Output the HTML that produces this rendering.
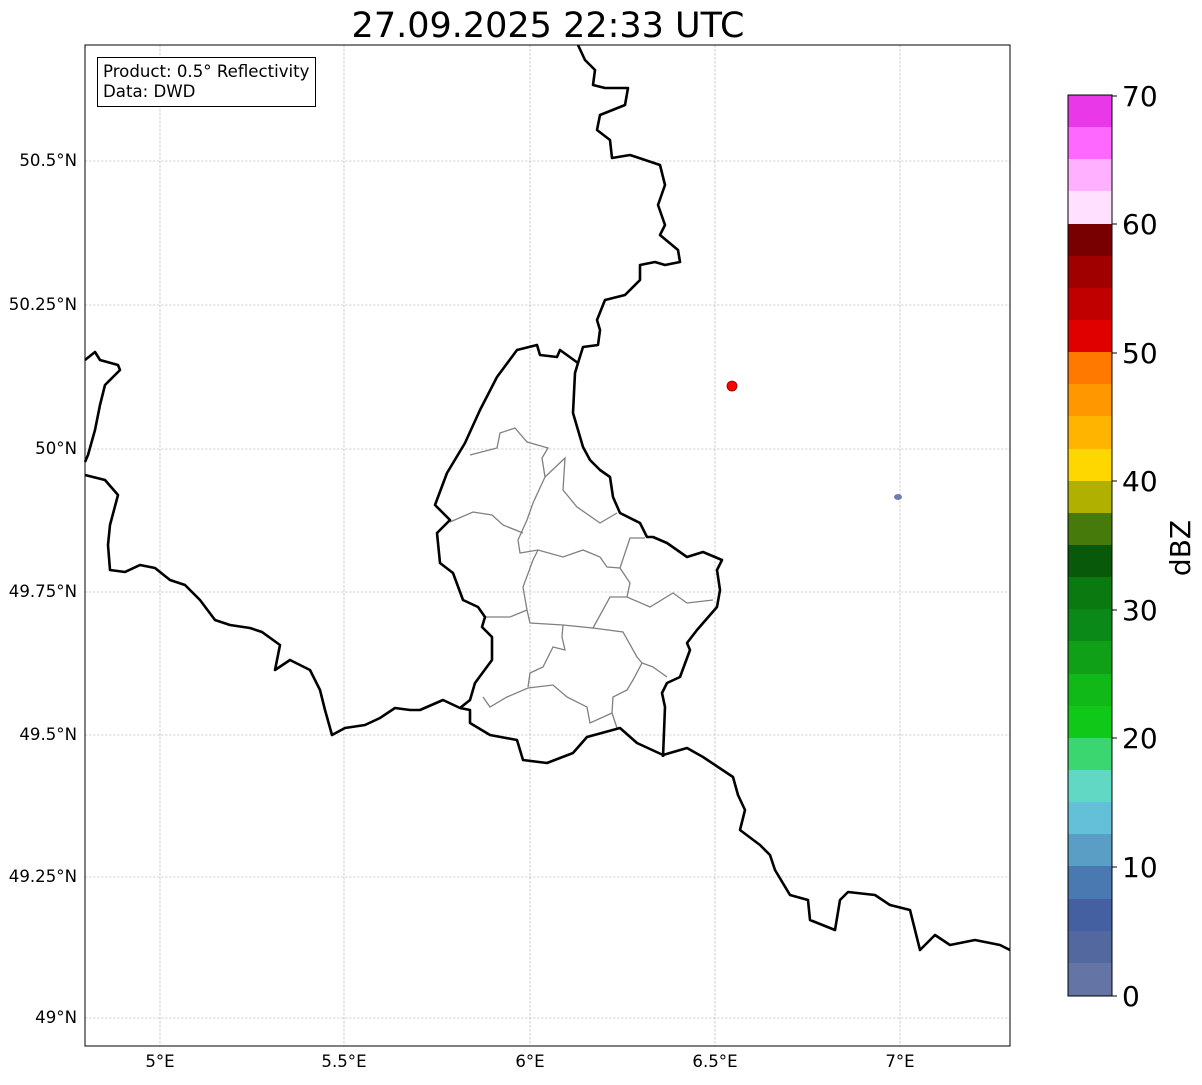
<!DOCTYPE html>
<html><head><meta charset="utf-8"><style>
body{margin:0;background:#fff;width:1202px;height:1081px;overflow:hidden;font-family:"DejaVu Sans",sans-serif}
</style></head><body>
<svg width="1202" height="1081" xmlns="http://www.w3.org/2000/svg" font-family="DejaVu Sans, sans-serif">
<text x="548" y="37" font-size="35" text-anchor="middle">27.09.2025 22:33 UTC</text>
<g stroke="#aaaaaa" stroke-width="0.6" stroke-dasharray="2.5,1.5">
<line x1="160" y1="45" x2="160" y2="1046"/><line x1="344" y1="45" x2="344" y2="1046"/><line x1="530" y1="45" x2="530" y2="1046"/><line x1="715" y1="45" x2="715" y2="1046"/><line x1="900" y1="45" x2="900" y2="1046"/>
<line x1="85" y1="161" x2="1010" y2="161"/><line x1="85" y1="305" x2="1010" y2="305"/><line x1="85" y1="449" x2="1010" y2="449"/><line x1="85" y1="592" x2="1010" y2="592"/><line x1="85" y1="735" x2="1010" y2="735"/><line x1="85" y1="877" x2="1010" y2="877"/><line x1="85" y1="1018" x2="1010" y2="1018"/>
</g>
<g fill="none" stroke="#808080" stroke-width="1.3">
<polyline points="470,455 497,448 500,433 515,428 527,442 548,448 542,458 545,477 533,503 527,520 518,540 520,553 538,550 563,557 583,550 600,557 607,567 620,568 630,583 627,597"/>
<polyline points="450,522 473,512 492,515 503,525 523,533"/>
<polyline points="545,477 565,458 563,490 577,507 600,523 617,513"/>
<polyline points="620,568 630,538 645,538"/>
<polyline points="538,550 533,560 523,587 527,610 530,623 563,625 593,628 610,597 627,597 650,607 673,593 687,603 713,600"/>
<polyline points="485,617 510,617 527,610"/>
<polyline points="563,625 562,637 565,650 553,647 543,667 530,673 528,687"/>
<polyline points="593,628 623,632 637,657 642,663 653,667 667,677"/>
<polyline points="642,663 633,680 627,690 613,697 612,713 617,728"/>
<polyline points="483,697 490,707 507,697 528,688 553,685 567,697 587,707 590,723 612,713"/>
</g>
<g fill="none" stroke="#000" stroke-width="2.6" stroke-linejoin="round">
<polyline points="578,45 585,60 595,70 593,85 605,88 628,88 625,105 600,115 597,130 610,140 612,158 630,155 660,165 665,185 658,205 665,225 660,235 678,250 680,262 665,265 655,262 640,265 640,280 625,295 605,300 597,320 600,330 598,345 583,347 578,363 575,373 573,413 578,430 583,447 590,460 600,470 610,477 613,497 620,513 640,523 647,537 653,537 667,543 687,557 703,552 722,560 717,570 720,590 717,607 697,630 687,643 690,650 680,677 667,683 662,693 665,707 663,757"/>
<polyline points="578,363 560,350 557,357 540,355 537,345 517,350 497,377 480,410 465,443 447,473 435,505 450,520 437,533 440,563 453,573 463,600 478,607 485,617 482,627 492,637 492,660 475,683 470,700 460,708"/>
<polyline points="85,475 105,480 118,495 110,525 108,545 110,570 125,572 140,565 155,568 170,580 185,585 200,600 215,620 230,625 250,628 262,632 280,645 275,670 290,660 310,670 320,690 325,710 332,735 345,728 365,725 380,718 395,708 410,710 420,710 443,700 460,708 470,710 470,723 490,735 517,740 523,760 547,763 573,753 587,737 620,728 637,743 663,755 687,748 703,757 733,777 738,795 745,810 740,830 760,845 770,855 775,870 790,895 808,900 810,920 835,930 840,900 848,892 875,895 890,905 910,910 915,930 920,950 935,935 950,945 975,940 1000,945 1010,950"/>
<polyline points="85,360 95,352 100,360 118,365 120,370 105,385 100,405 95,430 88,455 85,462"/>
</g>
<circle cx="732" cy="386" r="5" fill="#f00" stroke="#800" stroke-width="0.8"/>
<ellipse cx="898" cy="497" rx="4" ry="3" fill="#6a7fb0"/>
<rect x="85" y="45" width="925" height="1001" fill="none" stroke="#000" stroke-width="1"/>
<rect x="97.5" y="57.5" width="218" height="49" fill="#fff" stroke="#000" stroke-width="1"/>
<text x="103" y="77" font-size="16.6">Product: 0.5° Reflectivity</text>
<text x="103" y="97" font-size="16.6">Data: DWD</text>
<g font-size="16.6" text-anchor="end">
<text x="77" y="166">50.5°N</text><text x="77" y="310">50.25°N</text><text x="77" y="454">50°N</text><text x="77" y="597">49.75°N</text><text x="77" y="740">49.5°N</text><text x="77" y="882">49.25°N</text><text x="77" y="1023">49°N</text>
</g>
<g font-size="16.6" text-anchor="middle">
<text x="160" y="1067">5°E</text><text x="344" y="1067">5.5°E</text><text x="530" y="1067">6°E</text><text x="715" y="1067">6.5°E</text><text x="900" y="1067">7°E</text>
</g>
<g>
<rect x="1068" y="95" width="44" height="33" fill="#e838e8"/>
<rect x="1068" y="127" width="44" height="33" fill="#ff68ff"/>
<rect x="1068" y="159" width="44" height="33" fill="#ffb0ff"/>
<rect x="1068" y="191" width="44" height="34" fill="#ffe0ff"/>
<rect x="1068" y="224" width="44" height="33" fill="#780000"/>
<rect x="1068" y="256" width="44" height="33" fill="#a00000"/>
<rect x="1068" y="288" width="44" height="33" fill="#c00000"/>
<rect x="1068" y="320" width="44" height="33" fill="#e00000"/>
<rect x="1068" y="352" width="44" height="33" fill="#ff7800"/>
<rect x="1068" y="384" width="44" height="33" fill="#ff9800"/>
<rect x="1068" y="416" width="44" height="34" fill="#ffb400"/>
<rect x="1068" y="449" width="44" height="33" fill="#ffd700"/>
<rect x="1068" y="481" width="44" height="33" fill="#b0b000"/>
<rect x="1068" y="513" width="44" height="33" fill="#467a0a"/>
<rect x="1068" y="545" width="44" height="33" fill="#085a0a"/>
<rect x="1068" y="577" width="44" height="33" fill="#0a7a10"/>
<rect x="1068" y="609" width="44" height="33" fill="#0a8818"/>
<rect x="1068" y="641" width="44" height="34" fill="#10a018"/>
<rect x="1068" y="674" width="44" height="33" fill="#10b818"/>
<rect x="1068" y="706" width="44" height="33" fill="#10c818"/>
<rect x="1068" y="738" width="44" height="33" fill="#3cd670"/>
<rect x="1068" y="770" width="44" height="33" fill="#60d8c4"/>
<rect x="1068" y="802" width="44" height="33" fill="#64c0d8"/>
<rect x="1068" y="834" width="44" height="33" fill="#5a9ec6"/>
<rect x="1068" y="866" width="44" height="34" fill="#4a78b0"/>
<rect x="1068" y="899" width="44" height="33" fill="#4460a0"/>
<rect x="1068" y="931" width="44" height="33" fill="#5468a0"/>
<rect x="1068" y="963" width="44" height="33" fill="#6474a4"/>
<rect x="1068" y="95" width="44" height="901" fill="none" stroke="#000" stroke-width="1"/>
</g>
<g stroke="#000" stroke-width="1">
<line x1="1112" y1="96" x2="1117" y2="96"/><line x1="1112" y1="224" x2="1117" y2="224"/><line x1="1112" y1="353" x2="1117" y2="353"/><line x1="1112" y1="481" x2="1117" y2="481"/><line x1="1112" y1="610" x2="1117" y2="610"/><line x1="1112" y1="738" x2="1117" y2="738"/><line x1="1112" y1="867" x2="1117" y2="867"/><line x1="1112" y1="996" x2="1117" y2="996"/>
</g>
<g font-size="28">
<text x="1122" y="106">70</text><text x="1122" y="234">60</text><text x="1122" y="363">50</text><text x="1122" y="491">40</text><text x="1122" y="620">30</text><text x="1122" y="748">20</text><text x="1122" y="877">10</text><text x="1122" y="1006">0</text>
</g>
<text transform="translate(1190,548) rotate(-90)" font-size="28" text-anchor="middle">dBZ</text>
</svg>
</body></html>
